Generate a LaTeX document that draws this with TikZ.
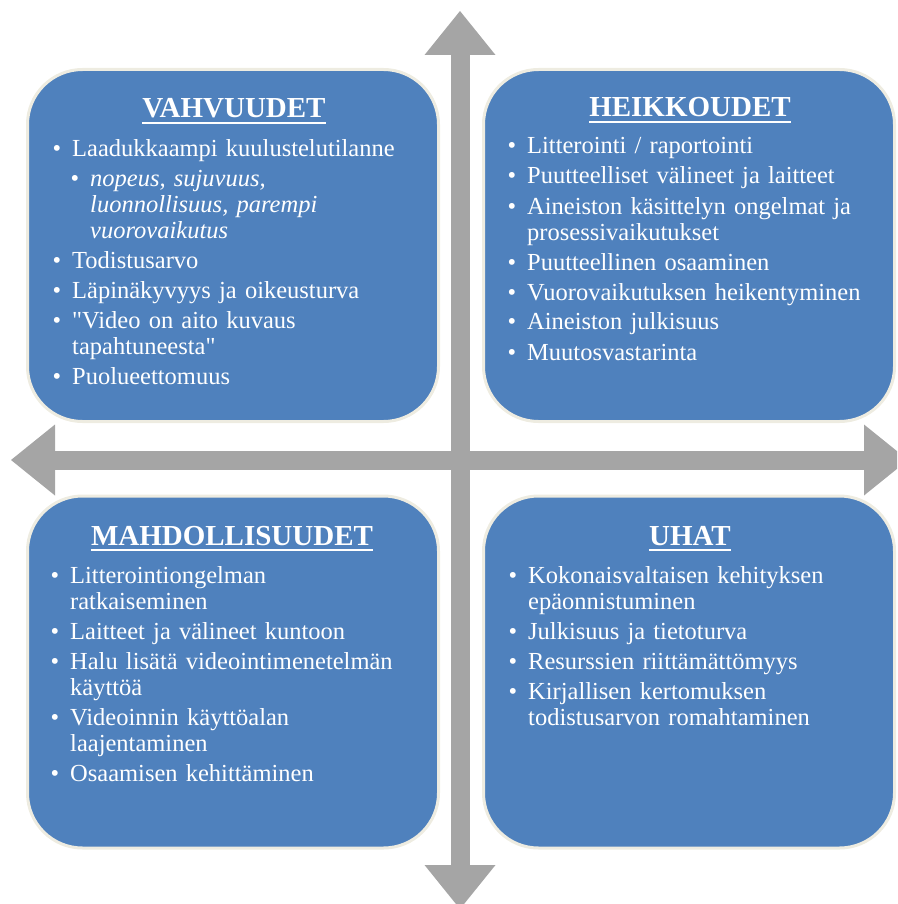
\documentclass[tikz,border=0pt]{standalone}
\usepackage{fontspec}
\setmainfont{Liberation Serif}
\usetikzlibrary{positioning,arrows.meta}

\definecolor{swotblue}{HTML}{4F81BD}
\definecolor{swotrim}{HTML}{EEECE1}
\definecolor{axisgray}{HTML}{A5A5A5}

\newcommand{\bul}{\leavevmode\llap{\textbullet\hspace{11pt}}}
\newcommand{\subitems}[1]{\par{\leftskip=18pt\bul\itshape #1\par}}

\tikzset{
  quadbox/.style={draw=swotrim, line width=3pt, fill=swotblue, rounded corners=55pt,
    minimum width=411pt, minimum height=352pt},
  quadtitle/.style={text=white, font=\bfseries\fontsize{29}{31}\selectfont, inner sep=0pt, anchor=base},
  titleline/.style={white, line width=2pt},
  quadlist/.style={text=white, font=\fontsize{24.5}{26}\selectfont, text width=360pt,
    inner sep=0pt, anchor=base west, execute at begin node={\setlength{\parskip}{4pt}}},
  axisarrow/.style={axisgray, line width=19pt,
    {Triangle[length=44pt,width=71pt,line width=0pt]}-{Triangle[length=44pt,width=71pt,line width=0pt]}},
}

\begin{document}
\begin{tikzpicture}[x=1pt,y=-1pt]
    \useasboundingbox (0,0) rectangle (897,904);
    \clip (0,0) rectangle (897,904);
    % axes
    \coordinate (axtop) at (460,11);
    \coordinate (axbottom) at (460,909);
    \coordinate (axleft) at (11,460);
    \coordinate (axright) at (908,460);
    \draw[axisarrow] (axtop) -- (axbottom);
    \draw[axisarrow] (axleft) -- (axright);
    % quadrants
    \node[quadbox] (vahv) at (233,245.5) {};
    \node[quadbox] (heik) at (689,245.5) {};
    \node[quadbox] (mahd) at (233,672) {};
    \node[quadbox] (uhat) at (689,672) {};
    % titles
    \node[quadtitle] (vahvtitle) at (234,118) {VAHVUUDET};
    \node[quadtitle] (heiktitle) at (690,117) {HEIKKOUDET};
    \node[quadtitle] (mahdtitle) at (232,545) {MAHDOLLISUUDET};
    \node[quadtitle] (uhattitle) at (690,545) {UHAT};
    \foreach \t in {vahvtitle,heiktitle,mahdtitle,uhattitle}
        \draw[titleline] ([yshift=-5pt]\t.base west) -- ([yshift=-5pt]\t.base east);
    % lists
    \node[quadlist] (vahvlist) at (72,157) {\bul Laadukkaampi kuulustelutilanne
        \subitems{nopeus, sujuvuus,\\ luonnollisuus, parempi\\ vuorovaikutus}
        \bul Todistusarvo\par
        \bul Läpinäkyvyys ja oikeusturva\par
        \bul \textquotedbl Video on aito kuvaus\\ tapahtuneesta\textquotedbl\par
        \bul Puolueettomuus};
    \node[quadlist] (heiklist) at (527,154) {\bul Litterointi / raportointi\par
        \bul Puutteelliset välineet ja laitteet\par
        \bul Aineiston käsittelyn ongelmat ja\\ prosessivaikutukset\par
        \bul Puutteellinen osaaminen\par
        \bul Vuorovaikutuksen heikentyminen\par
        \bul Aineiston julkisuus\par
        \bul Muutosvastarinta};
    \node[quadlist] (mahdlist) at (70,583) {\bul Litterointiongelman\\ ratkaiseminen\par
        \bul Laitteet ja välineet kuntoon\par
        \bul Halu lisätä videointimenetelmän\\ käyttöä\par
        \bul Videoinnin käyttöalan\\ laajentaminen\par
        \bul Osaamisen kehittäminen};
    \node[quadlist] (uhatlist) at (528,583) {\bul Kokonaisvaltaisen kehityksen\\ epäonnistuminen\par
        \bul Julkisuus ja tietoturva\par
        \bul Resurssien riittämättömyys\par
        \bul Kirjallisen kertomuksen\\ todistusarvon romahtaminen};
\end{tikzpicture}
\end{document}
